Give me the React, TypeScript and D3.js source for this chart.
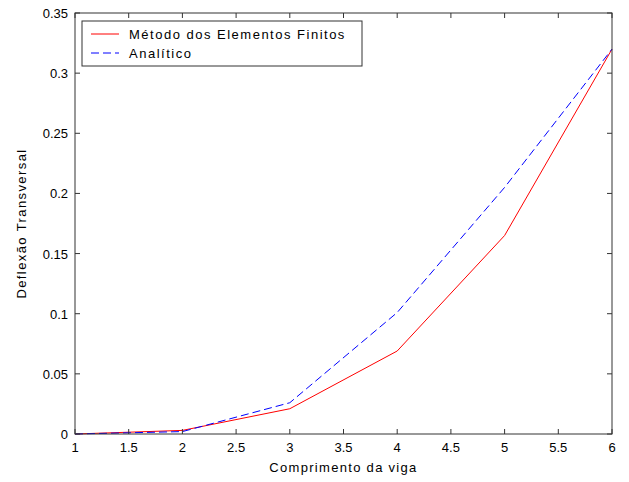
import React from 'react';
import * as d3 from 'd3';

const width = 629;
const height = 482;
const margin = { top: 13, left: 75, bottom: 48, right: 17 };
const iwidth = width - margin.left - margin.right;
const iheight = height - margin.top - margin.bottom;

const xs = [1, 2, 3, 4, 5, 6];
const fem = [0, 0.003, 0.021, 0.069, 0.165, 0.32];
const analitico = [0, 0.002, 0.026, 0.101, 0.205, 0.32];
const xTicks = [1, 1.5, 2, 2.5, 3, 3.5, 4, 4.5, 5, 5.5, 6];
const yTicks = [0, 0.05, 0.1, 0.15, 0.2, 0.25, 0.3, 0.35];
const legendNames = ['Método dos Elementos Finitos', 'Analítico'];

const font = 'Arial, "Liberation Sans", sans-serif';

const App = () => {
  const x = d3.scaleLinear().domain([1, 6]).range([0, iwidth]);
  const y = d3.scaleLinear().domain([0, 0.35]).range([iheight, 0]);

  const line = d3
    .line<number>()
    .x((d, i) => x(xs[i]))
    .y(d => y(d));

  const tickLen = 5;

  return (
    <svg width={width} height={height} style={{ position: 'absolute', left: 0, top: 0 }}>
      <rect width={width} height={height} fill="#fff" />
      <g transform={`translate(${margin.left},${margin.top})`}>
        <path d={line(fem) || ''} fill="none" stroke="#ff0000" strokeWidth={1} />
        <path d={line(analitico) || ''} fill="none" stroke="#0000ff" strokeWidth={1} strokeDasharray="8,4" />

        <rect x={0} y={0} width={iwidth} height={iheight} fill="none" stroke="#333" strokeWidth={1} />

        {xTicks.map(t => (
          <g key={'x' + t}>
            <line x1={x(t)} x2={x(t)} y1={iheight} y2={iheight - tickLen} stroke="#333" />
            <line x1={x(t)} x2={x(t)} y1={0} y2={tickLen} stroke="#333" />
            <text x={x(t)} y={iheight + 18} textAnchor="middle" fontFamily={font} fontSize={13} fill="#000">
              {t}
            </text>
          </g>
        ))}
        {yTicks.map(t => (
          <g key={'y' + t}>
            <line x1={0} x2={tickLen} y1={y(t)} y2={y(t)} stroke="#333" />
            <line x1={iwidth} x2={iwidth - tickLen} y1={y(t)} y2={y(t)} stroke="#333" />
            <text x={-7} y={y(t) + 5} textAnchor="end" fontFamily={font} fontSize={13} fill="#000">
              {t}
            </text>
          </g>
        ))}

        <text
          x={iwidth / 2}
          y={iheight + 38}
          textAnchor="middle"
          fontFamily={font}
          fontSize={13}
          letterSpacing={1.3}
          fill="#000"
        >
          Comprimento da viga
        </text>
        <text
          transform={`translate(${-49},${iheight / 2}) rotate(-90)`}
          textAnchor="middle"
          fontFamily={font}
          fontSize={13}
          letterSpacing={1.4}
          fill="#000"
        >
          Deflexão Transversal
        </text>

        <g transform="translate(7,8)">
          <rect x={0} y={0} width={280} height={45} fill="#fff" stroke="#333" strokeWidth={1} />
          {legendNames.map((n, i) => (
            <g key={n} transform={`translate(0,${13 + i * 19})`}>
              <line
                x1={9}
                x2={37}
                y1={0}
                y2={0}
                stroke={i === 0 ? '#ff0000' : '#0000ff'}
                strokeDasharray={i === 0 ? undefined : '8,4'}
              />
              <text x={47} y={5} fontFamily={font} fontSize={13} letterSpacing={1.5} fill="#000">
                {n}
              </text>
            </g>
          ))}
        </g>
      </g>
    </svg>
  );
};

export default App;
